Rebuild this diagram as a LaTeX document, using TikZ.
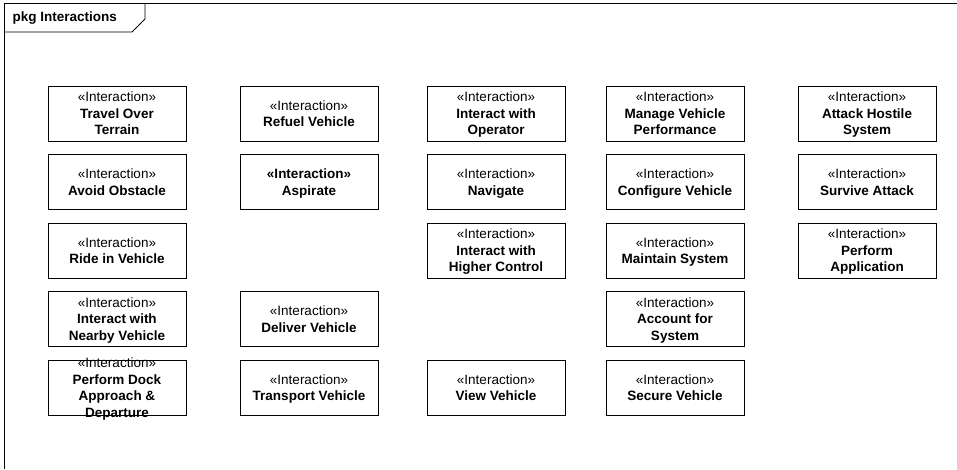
\documentclass[tikz,border=0pt]{standalone}
\usepackage{fontspec}
\setmainfont{Liberation Sans}
% one strutted line of a box label: stereotype and bold name lines
\newcommand\stereo{\strut«Interaction»}
\newcommand\bl[1]{\strut\textbf{#1}}
\begin{document}
\begin{tikzpicture}[x=1pt,y=-1pt,
  frameline/.style={draw=black,line width=0.9pt},
  ibox/.style={draw=black,line width=0.9pt,fill=white,minimum width=138pt,minimum height=55pt,inner sep=0pt},
  itext/.style={inner sep=0pt,align=center,yshift=-1.5pt,font=\fontsize{13.5}{16.5}\selectfont},
  title/.style={inner sep=0pt,anchor=west,font=\fontsize{13.5}{16.5}\selectfont\bfseries}]
\useasboundingbox (0,0) rectangle (957,469);

% package frame and its name tab
\draw[frameline] (957,3.5) -- (4,3.5) -- (4,469);
\draw[frameline] (4,32) -- (132,32) -- (145,19) -- (145,3.5);
\node[title] (pkg) at (12.5,18) {pkg Interactions};

% column x-centres: 117, 309, 496, 675, 867
% row y-centres: 113.5, 182, 250.5, 319, 387.5

% row 1
\node[ibox] (travel) at (117,113.5) {};
\node[itext] at (travel.center) {\stereo\\\bl{Travel Over}\\\bl{Terrain}};
\node[ibox] (refuel) at (309,113.5) {};
\node[itext] at (refuel.center) {\stereo\\\bl{Refuel Vehicle}};
\node[ibox] (operator) at (496,113.5) {};
\node[itext] at (operator.center) {\stereo\\\bl{Interact with}\\\bl{Operator}};
\node[ibox] (manage) at (675,113.5) {};
\node[itext] at (manage.center) {\stereo\\\bl{Manage Vehicle}\\\bl{Performance}};
\node[ibox] (attack) at (867,113.5) {};
\node[itext] at (attack.center) {\stereo\\\bl{Attack Hostile}\\\bl{System}};

% row 2
\node[ibox] (avoid) at (117,182) {};
\node[itext] at (avoid.center) {\stereo\\\bl{Avoid Obstacle}};
\node[ibox] (aspirate) at (309,182) {};
\node[itext] at (aspirate.center) {\bl{«Interaction»}\\\bl{Aspirate}};
\node[ibox] (navigate) at (496,182) {};
\node[itext] at (navigate.center) {\stereo\\\bl{Navigate}};
\node[ibox] (configure) at (675,182) {};
\node[itext] at (configure.center) {\stereo\\\bl{Configure Vehicle}};
\node[ibox] (survive) at (867,182) {};
\node[itext] at (survive.center) {\stereo\\\bl{Survive Attack}};

% row 3
\node[ibox] (ride) at (117,250.5) {};
\node[itext] at (ride.center) {\stereo\\\bl{Ride in Vehicle}};
\node[ibox] (higher) at (496,250.5) {};
\node[itext] at (higher.center) {\stereo\\\bl{Interact with}\\\bl{Higher Control}};
\node[ibox] (maintain) at (675,250.5) {};
\node[itext] at (maintain.center) {\stereo\\\bl{Maintain System}};
\node[ibox] (perform) at (867,250.5) {};
\node[itext] at (perform.center) {\stereo\\\bl{Perform}\\\bl{Application}};

% row 4
\node[ibox] (nearby) at (117,319) {};
\node[itext] at (nearby.center) {\stereo\\\bl{Interact with}\\\bl{Nearby Vehicle}};
\node[ibox] (deliver) at (309,319) {};
\node[itext] at (deliver.center) {\stereo\\\bl{Deliver Vehicle}};
\node[ibox] (account) at (675,319) {};
\node[itext] at (account.center) {\stereo\\\bl{Account for}\\\bl{System}};

% row 5
\node[ibox] (dock) at (117,387.5) {};
\node[itext] at (dock.center) {\stereo\\\bl{Perform Dock}\\\bl{Approach \&}\\\bl{Departure}};
\node[ibox] (transport) at (309,387.5) {};
\node[itext] at (transport.center) {\stereo\\\bl{Transport Vehicle}};
\node[ibox] (view) at (496,387.5) {};
\node[itext] at (view.center) {\stereo\\\bl{View Vehicle}};
\node[ibox] (secure) at (675,387.5) {};
\node[itext] at (secure.center) {\stereo\\\bl{Secure Vehicle}};
\end{tikzpicture}
\end{document}
